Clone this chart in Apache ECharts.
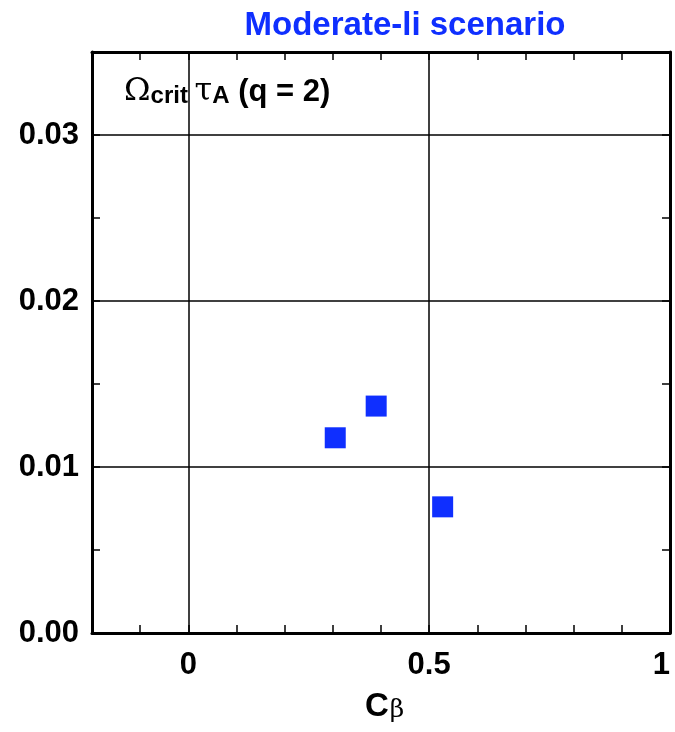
<!DOCTYPE html>
<html>
<head>
<meta charset="utf-8">
<script src="https://cdn.jsdelivr.net/npm/echarts@6/dist/echarts.min.js"></script>
<style>
  html, body { margin: 0; padding: 0; background: #fff; }
  #chart { width: 675px; height: 732px; }
</style>
</head>
<body>
<div id="chart"></div>
<script>
// Critical rotation vs C_beta, moderate-li scenario
const cBeta = [0.305, 0.39, 0.528];
const omegaCrit = [0.01176, 0.01367, 0.0076];
const xLabelValues = [0, 0.5, 1];
const yLabelValues = [0, 0.01, 0.02, 0.03];
const xGridValues = [0, 0.5];
const yGridValues = [0.01, 0.02, 0.03];

const FONT = "'Liberation Sans Narrow', 'Liberation Sans', Arial, sans-serif";
const SERIF = "'DejaVu Serif', 'Liberation Serif', serif";
const BLUE = '#0f2fff';

const near = (v, list) => list.some(t => Math.abs(v - t) < 1e-9);

const chart = echarts.init(document.getElementById('chart'), null, { renderer: 'canvas' });

const tickStyle = { color: '#000', width: 1.5 };

function xAxisDef(pos, showLabels) {
  return {
    type: 'value', position: pos, min: -0.2, max: 1.0, interval: 0.1,
    axisLine: { show: true, onZero: false, lineStyle: { color: '#000', width: 3 } },
    axisTick: { show: true, inside: true, length: 8, lineStyle: tickStyle },
    splitLine: { show: false },
    axisLabel: {
      show: showLabels, margin: 17, color: '#000', fontFamily: FONT, fontWeight: 'bold', fontSize: 31,
      showMinLabel: true, showMaxLabel: true, hideOverlap: false, alignMaxLabel: 'right',
      formatter: v => near(v, xLabelValues) ? String(Math.round(v * 10) / 10) : ''
    }
  };
}
function yAxisDef(pos, showLabels) {
  return {
    type: 'value', position: pos, min: 0, max: 0.035, interval: 0.005,
    axisLine: { show: true, onZero: false, lineStyle: { color: '#000', width: 3 } },
    axisTick: { show: true, inside: true, length: 8, lineStyle: tickStyle },
    splitLine: { show: false },
    axisLabel: {
      show: showLabels, margin: 13, color: '#000', fontFamily: FONT, fontWeight: 'bold', fontSize: 31,
      showMaxLabel: false, hideOverlap: false,
      formatter: v => near(v, yLabelValues) ? v.toFixed(2) : ''
    }
  };
}

const gridLines = [
  ...xGridValues.map(v => ({ xAxis: v })),
  ...yGridValues.map(v => ({ yAxis: v }))
];

chart.setOption({
  backgroundColor: '#fff',
  animation: false,
  title: {
    text: 'Moderate-li scenario',
    left: 400, top: 4, textAlign: 'center',
    textStyle: { color: BLUE, fontFamily: FONT, fontWeight: 'bold', fontSize: 33 }
  },
  grid: { left: 92, right: 5, top: 52, bottom: 99, containLabel: false, outerBoundsMode: 'none' },
  xAxis: [xAxisDef('bottom', true), xAxisDef('top', false)],
  yAxis: [yAxisDef('left', true), yAxisDef('right', false)],
  graphic: [
    {
      type: 'text', left: 124, top: 76, z: 10,
      style: {
        text: '{g|Ω}{sub|crit}{sp| }{g|τ}{sub|A}{m| (q = 2)}',
        rich: {
          g: { fontFamily: SERIF, fontSize: 32, fill: '#000', verticalAlign: 'bottom' },
          sp: { fontFamily: FONT, fontSize: 24, fill: '#000', verticalAlign: 'bottom' },
          sub: { fontFamily: FONT, fontWeight: 'bold', fontSize: 24, fill: '#000', padding: [18, 0, 0, 0], verticalAlign: 'bottom' },
          m: { fontFamily: FONT, fontWeight: 'bold', fontSize: 31, fill: '#000', verticalAlign: 'bottom' }
        }
      }
    },
    {
      type: 'text', left: 365, top: 690, z: 10,
      style: {
        text: '{c|C}{b|β}',
        rich: {
          c: { fontFamily: FONT, fontWeight: 'bold', fontSize: 33, fill: '#000', verticalAlign: 'bottom' },
          b: { fontFamily: SERIF, fontSize: 25, fill: '#000', padding: [14, 0, 0, 1], verticalAlign: 'bottom' }
        }
      }
    }
  ],
  series: [{
    type: 'scatter',
    xAxisIndex: 0, yAxisIndex: 0,
    data: cBeta.map((x, i) => [x, omegaCrit[i]]),
    symbol: 'rect', symbolSize: 21,
    itemStyle: { color: BLUE, opacity: 1 },
    z: 5,
    markLine: {
      silent: true, symbol: 'none', label: { show: false },
      lineStyle: { color: '#000', width: 1.5, type: 'solid' },
      data: gridLines
    }
  }]
});
</script>
</body>
</html>
